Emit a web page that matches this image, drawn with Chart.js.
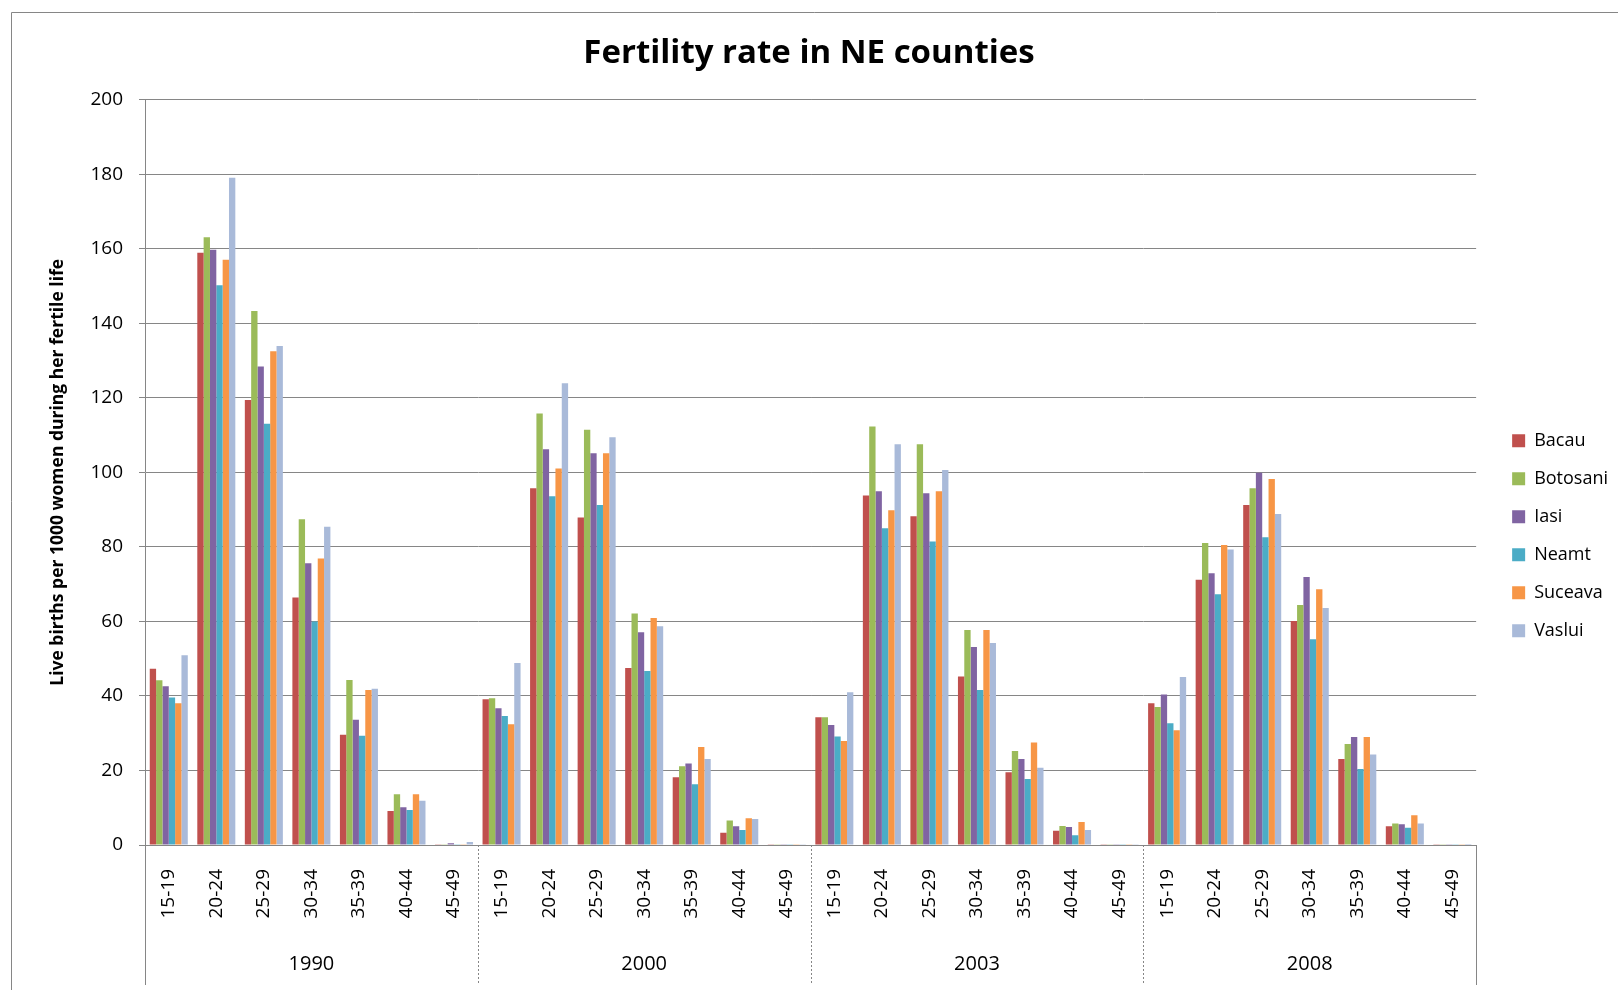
<!DOCTYPE html>
<html>
<head>
<meta charset="utf-8">
<title>Fertility rate in NE counties</title>
<script src="https://cdn.jsdelivr.net/npm/chart.js@4"></script>
<style>
  html, body { margin: 0; padding: 0; background: #fff; }
  #wrap { width: 1618px; height: 990px; }
</style>
</head>
<body>
<div id="wrap"><canvas id="fertChart" width="1618" height="990"></canvas></div>
<script>
// Age groups and years (two-level category axis)
const ageGroups = ['15-19', '20-24', '25-29', '30-34', '35-39', '40-44', '45-49'];
const years = ['1990', '2000', '2003', '2008'];
const yTicks = [0, 20, 40, 60, 80, 100, 120, 140, 160, 180, 200];

// Values per county, in order 1990 (7 age groups), 2000, 2003, 2008
const bacau = [
  47.3, 158.9, 119.4, 66.4, 29.6, 9.1, 0.2,
  39.1, 95.7, 87.9, 47.5, 18.2, 3.3, 0.2,
  34.3, 93.8, 88.2, 45.2, 19.5, 3.8, 0.1,
  38.0, 71.2, 91.2, 60.1, 23.1, 5.0, 0.1
];
const botosani = [
  44.2, 163.1, 143.3, 87.4, 44.3, 13.6, 0.2,
  39.4, 115.8, 111.4, 62.1, 21.1, 6.6, 0.1,
  34.3, 112.3, 107.5, 57.7, 25.2, 5.1, 0.1,
  37.0, 81.0, 95.7, 64.4, 27.1, 5.8, 0.1
];
const iasi = [
  42.6, 159.7, 128.4, 75.6, 33.6, 10.1, 0.5,
  36.7, 106.2, 105.1, 57.1, 21.9, 5.0, 0.1,
  32.2, 94.9, 94.4, 53.1, 23.1, 4.8, 0.1,
  40.4, 72.9, 99.9, 71.9, 29.0, 5.6, 0.1
];
const neamt = [
  39.6, 150.2, 113.0, 60.0, 29.3, 9.4, 0.2,
  34.6, 93.6, 91.2, 46.7, 16.3, 4.0, 0.1,
  29.1, 85.0, 81.4, 41.6, 17.7, 2.6, 0.1,
  32.7, 67.3, 82.6, 55.2, 20.4, 4.6, 0.1
];
const suceava = [
  38.0, 157.0, 132.5, 76.9, 41.6, 13.6, 0.2,
  32.4, 101.0, 105.1, 60.9, 26.3, 7.2, 0.1,
  27.9, 89.8, 94.9, 57.7, 27.5, 6.2, 0.1,
  30.8, 80.5, 98.2, 68.6, 29.0, 8.0, 0.1
];
const vaslui = [
  50.9, 179.0, 133.9, 85.4, 41.9, 11.9, 0.8,
  48.8, 123.9, 109.4, 58.7, 23.1, 7.0, 0.1,
  41.0, 107.5, 100.6, 54.2, 20.7, 4.0, 0.1,
  45.1, 79.3, 88.8, 63.6, 24.3, 5.8, 0.3
];

const counties = ['Bacau', 'Botosani', 'Iasi', 'Neamt', 'Suceava', 'Vaslui'];
const seriesValues = [bacau, botosani, iasi, neamt, suceava, vaslui];
const seriesColors = ['#C0504D', '#9BBB59', '#8064A2', '#4BACC6', '#F79646', '#A9BAD9'];

const FONT = "'Open Sans', 'DejaVu Sans', sans-serif";
const GRID = '#868686';

// one label per bar group: age groups repeated for each year
const labels = years.flatMap(() => ageGroups);

// white background + outer chart frame like the spreadsheet export
const chartFrame = {
  id: 'chartFrame',
  beforeDraw(chart) {
    const ctx = chart.ctx;
    ctx.save();
    ctx.fillStyle = '#fff';
    ctx.fillRect(0, 0, chart.width, chart.height);
    ctx.strokeStyle = GRID;
    ctx.lineWidth = 1;
    ctx.beginPath();
    ctx.moveTo(11.5, chart.height);
    ctx.lineTo(11.5, 12.5);
    ctx.lineTo(chart.width, 12.5);
    ctx.stroke();
    ctx.restore();
  }
};

// vertical dividers between the year groups under the axis
const groupDividers = {
  id: 'groupDividers',
  afterDraw(chart) {
    const ctx = chart.ctx;
    const x = chart.scales.x;
    const area = chart.chartArea;
    const bottom = chart.height - 5;
    ctx.save();
    ctx.strokeStyle = GRID;
    ctx.lineWidth = 1;
    // outer edges solid
    [area.left, area.right].forEach(px => {
      ctx.beginPath();
      ctx.moveTo(Math.round(px) + 0.5, area.bottom);
      ctx.lineTo(Math.round(px) + 0.5, bottom);
      ctx.stroke();
    });
    // inner dividers dotted
    ctx.setLineDash([2, 2]);
    for (let g = 1; g < years.length; g++) {
      const i = g * ageGroups.length;
      const px = (x.getPixelForValue(i - 1) + x.getPixelForValue(i)) / 2;
      ctx.beginPath();
      ctx.moveTo(Math.round(px) + 0.5, area.bottom);
      ctx.lineTo(Math.round(px) + 0.5, bottom);
      ctx.stroke();
    }
    ctx.restore();
  }
};

const ctx = document.getElementById('fertChart').getContext('2d');
const fertChart = new Chart(ctx, {
  type: 'bar',
  data: {
    labels: labels,
    datasets: counties.map((name, i) => ({
      label: name,
      data: seriesValues[i],
      backgroundColor: seriesColors[i],
      borderWidth: 0,
      categoryPercentage: 0.8,
      barPercentage: 1.0
    }))
  },
  options: {
    responsive: false,
    animation: false,
    layout: { padding: { left: 0, right: 0, top: 0, bottom: 0 } },
    plugins: {
      title: {
        display: true,
        text: 'Fertility rate in NE counties',
        color: '#000',
        font: { family: FONT, size: 33, weight: 'bold' },
        padding: { top: 34, bottom: 26 }
      },
      legend: {
        position: 'right',
        align: 'center',
        // empty title only pushes the legend items down
        title: {
          display: true,
          text: '',
          font: { family: FONT, size: 12 },
          padding: { top: 67, bottom: 0 }
        },
        labels: {
          color: '#000',
          font: { family: FONT, size: 18 },
          boxWidth: 13,
          boxHeight: 13,
          padding: 20
        }
      },
      tooltip: { enabled: false }
    },
    scales: {
      x: {
        weight: 0,
        grid: { display: false },
        border: { display: true, color: GRID },
        ticks: {
          color: '#000',
          font: { family: FONT, size: 19 },
          minRotation: 90,
          maxRotation: 90,
          autoSkip: false,
          padding: 16
        },
        afterFit: s => { s.height = 85; }
      },
      x2: {
        type: 'category',
        labels: years,
        position: 'bottom',
        weight: 1,
        offset: true,
        grid: { display: false },
        border: { display: false },
        ticks: {
          color: '#000',
          font: { family: FONT, size: 20 },
          maxRotation: 0,
          padding: 14
        },
        afterFit: s => { s.height = 60; }
      },
      y: {
        min: 0,
        max: 200,
        afterBuildTicks: s => { s.ticks = yTicks.map(v => ({ value: v })); },
        grid: { color: GRID, tickLength: 6 },
        border: { color: GRID },
        ticks: {
          color: '#000',
          font: { family: FONT, size: 19 },
          padding: 16
        },
        title: {
          display: true,
          text: 'Live births per 1000 women during her fertile life',
          color: '#000',
          font: { family: FONT, size: 17.5, weight: 'bold' },
          padding: { top: 48, bottom: 0 }
        },
        afterFit: s => { s.width = 145; }
      },
      gap: {
        type: 'linear',
        position: 'right',
        display: true,
        grid: { display: false },
        border: { display: false },
        ticks: { display: false },
        afterFit: s => { s.width = 16; }
      }
    }
  },
  plugins: [chartFrame, groupDividers]
});
</script>
</body>
</html>
